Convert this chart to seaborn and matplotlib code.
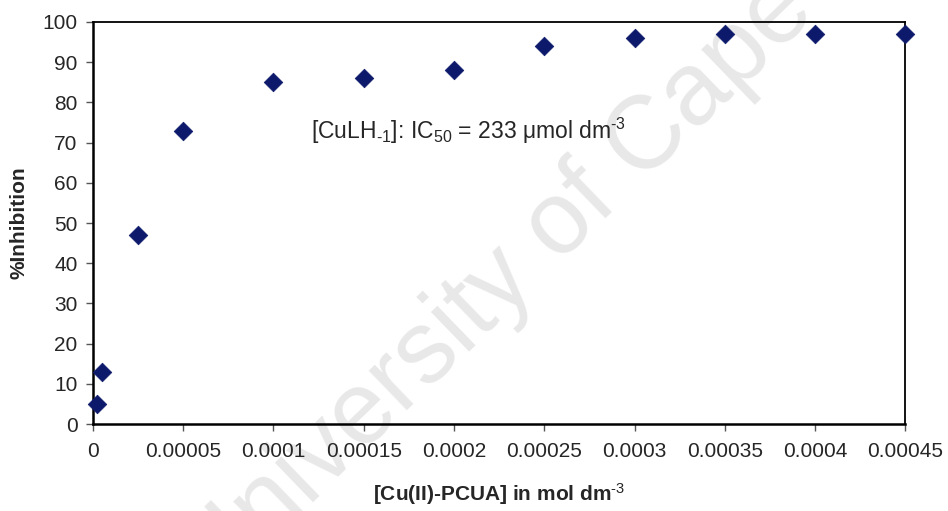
import matplotlib
matplotlib.use("Agg")
import matplotlib.pyplot as plt
import seaborn as sns
import pandas as pd

# Inhibition of the Cu(II)-PCUA complex as a function of concentration
concentration = [0.000002, 0.000005, 0.000025, 0.00005, 0.0001, 0.00015,
                 0.0002, 0.00025, 0.0003, 0.00035, 0.0004, 0.00045]
inhibition = [5, 13, 47, 73, 85, 86, 88, 94, 96, 97, 97, 97]

x_ticks = [0, 0.00005, 0.0001, 0.00015, 0.0002, 0.00025, 0.0003,
           0.00035, 0.0004, 0.00045]
x_tick_labels = ["0", "0.00005", "0.0001", "0.00015", "0.0002", "0.00025",
                 "0.0003", "0.00035", "0.0004", "0.00045"]
y_ticks = [0, 10, 20, 30, 40, 50, 60, 70, 80, 90, 100]

df = pd.DataFrame({"conc": concentration, "inh": inhibition})

sns.set_style("white")
plt.rcParams["font.family"] = ["Liberation Sans", "DejaVu Sans"]
plt.rcParams["mathtext.fontset"] = "custom"
plt.rcParams["mathtext.rm"] = "Liberation Sans"
plt.rcParams["mathtext.it"] = "Liberation Sans:italic"
plt.rcParams["mathtext.bf"] = "Liberation Sans:bold"

fig = plt.figure(figsize=(9.48, 5.11), dpi=100)
ax = fig.add_axes([0.098, 0.170, 0.857, 0.787])

# faint diagonal watermark, kept underneath everything else
ax.text(0.626, 0.62, "University of Cape Town", fontsize=74, color="#e8e8e8",
        rotation=44, rotation_mode="anchor", ha="center", va="center",
        transform=fig.transFigure, zorder=0, clip_on=False)

sns.scatterplot(data=df, x="conc", y="inh", marker="D", s=90,
                color="#0d1a6b", edgecolor="#0d1a6b", linewidth=0.5,
                ax=ax, zorder=3, clip_on=False, legend=False)

ax.set_xlim(0, 0.00045)
ax.set_ylim(0, 100)
ax.set_xticks(x_ticks)
ax.set_xticklabels(x_tick_labels)
ax.set_yticks(y_ticks)

for side in ["left", "bottom"]:
    ax.spines[side].set_linewidth(1.8)
for side in ["top", "right"]:
    ax.spines[side].set_linewidth(1.3)
for sp in ax.spines.values():
    sp.set_color("black")
    sp.set_visible(True)
    sp.set_zorder(2)

ax.tick_params(axis="both", direction="out", length=5, width=1,
               color="#555555", labelsize=15, bottom=True, left=True)
ax.tick_params(axis="x", pad=8)
ax.tick_params(axis="y", pad=6)

ax.set_xlabel(r"[Cu(II)-PCUA] in mol dm$^{\text{-3}}$", fontsize=15,
              fontweight="bold", labelpad=14)
ax.set_ylabel("%Inhibition", fontsize=15, fontweight="bold")
ax.yaxis.set_label_coords(-0.079, 0.5)

ax.text(0.000121, 73,
        r"[CuLH$_{\text{-1}}$]: IC$_{50}$ = 233 $\mathrm{\mu}$mol dm$^{\text{-3}}$",
        fontsize=16.5, ha="left", va="center", zorder=4)

fig.savefig("out.png", dpi=100)
